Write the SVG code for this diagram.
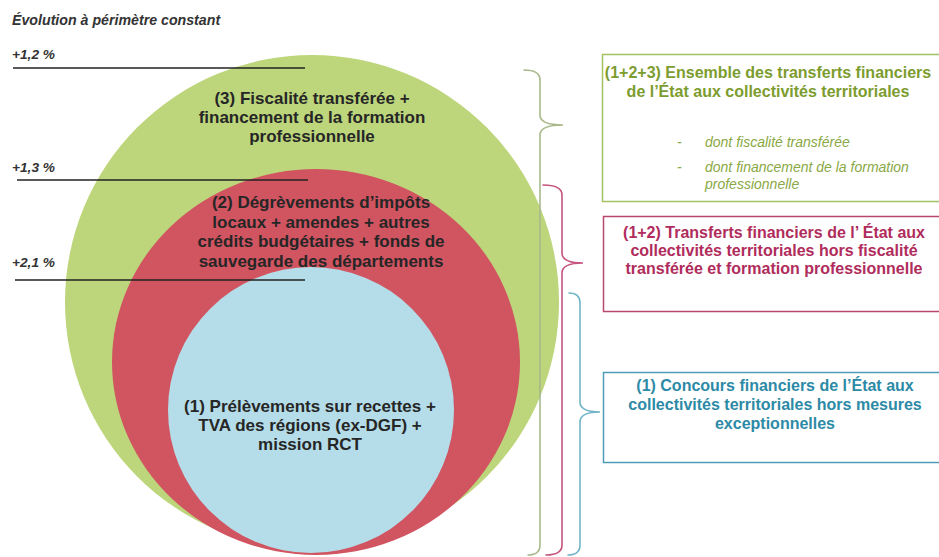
<svg xmlns="http://www.w3.org/2000/svg" width="939" height="557" viewBox="0 0 939 557">
<style>
.lbl{font-family:"Liberation Sans",Arial,sans-serif;font-weight:bold;font-style:italic;fill:#333;}
.ct{font-family:"Liberation Sans",Arial,sans-serif;font-weight:bold;font-size:17px;fill:#262626;text-anchor:middle;}
.bt{font-family:"Liberation Sans",Arial,sans-serif;font-weight:bold;font-size:16px;text-anchor:middle;}
.it{font-family:"Liberation Sans",Arial,sans-serif;font-style:italic;font-size:14px;fill:#8aa845;}
.lvl{stroke:#222;stroke-width:1.3;fill:none;}
.br{fill:none;stroke-width:1.6;stroke-linecap:round;}
</style>
<rect width="939" height="557" fill="#ffffff"/>
<g id="title">
<text class="lbl" x="12" y="25" font-size="14.2">Évolution à périmètre constant</text>
</g>
<g id="circle3">
<circle cx="312" cy="302" r="247" fill="#bdd67c"/>
</g>
<g id="circle2">
<ellipse cx="316" cy="362" rx="204" ry="193" fill="#d15461"/>
</g>
<g id="circle1">
<circle cx="311" cy="410" r="143" fill="#b5dde9"/>
</g>
<g id="circle3-text">
<text class="ct" x="312" y="104">(3) Fiscalité transférée +</text>
<text class="ct" x="312" y="123">financement de la formation</text>
<text class="ct" x="312" y="142">professionnelle</text>
</g>
<g id="circle2-text">
<text class="ct" x="321" y="208">(2) Dégrèvements d’impôts</text>
<text class="ct" x="321" y="228">locaux + amendes + autres</text>
<text class="ct" x="321" y="247">crédits budgétaires + fonds de</text>
<text class="ct" x="321" y="267">sauvegarde des départements</text>
</g>
<g id="circle1-text">
<text class="ct" x="310" y="412">(1) Prélèvements sur recettes +</text>
<text class="ct" x="310" y="431">TVA des régions (ex-DGF) +</text>
<text class="ct" x="310" y="450">mission RCT</text>
</g>
<g id="levels">
<line class="lvl" x1="13" y1="68" x2="305" y2="68"/>
<line class="lvl" x1="17" y1="180" x2="308" y2="180"/>
<line class="lvl" x1="15" y1="280" x2="305" y2="280"/>
<text class="lbl" x="12" y="59" font-size="13.7">+1,2 %</text>
<text class="lbl" x="12" y="172" font-size="13.7">+1,3 %</text>
<text class="lbl" x="12" y="267" font-size="13.7">+2,1 %</text>
</g>
<g id="connectors">
<path class="br" stroke="#a9b98c" d="M524 70 Q540 70 540 80 L540 115 Q540 125 563 125 Q540 125 540 135 L540 545 Q540 555 528 555"/>
<path class="br" stroke="#c4557f" d="M543 185 Q562 185 562 195 L562 253 Q562 263 583 263 Q562 263 562 273 L562 545 Q562 555 546 555"/>
<path class="br" stroke="#72b5c8" d="M569 293 Q580 293 580 303 L580 402 Q580 412 600 412 Q580 412 580 422 L580 545 Q580 555 568 555"/>
</g>
<g id="box3">
<rect x="602.5" y="54.5" width="345" height="147" fill="#ffffff" stroke="#a3c062" stroke-width="1.5"/>
<text class="bt" x="768" y="78" fill="#7d9c2f">(1+2+3) Ensemble des transferts financiers</text>
<text class="bt" x="768" y="97" fill="#7d9c2f">de l’État aux collectivités territoriales</text>
<text class="it" x="677" y="147">-</text>
<text class="it" x="705" y="147">dont fiscalité transférée</text>
<text class="it" x="677" y="172">-</text>
<text class="it" x="705" y="172">dont financement de la formation</text>
<text class="it" x="705" y="189">professionnelle</text>
</g>
<g id="box2">
<rect x="603.5" y="216.5" width="345" height="95" fill="#ffffff" stroke="#b8476f" stroke-width="1.5"/>
<text class="bt" x="774" y="238" fill="#b02c5c">(1+2) Transferts financiers de l’ État aux</text>
<text class="bt" x="774" y="256" fill="#b02c5c">collectivités territoriales hors fiscalité</text>
<text class="bt" x="774" y="274" fill="#b02c5c">transférée et formation professionnelle</text>
</g>
<g id="box1">
<rect x="603.5" y="372.5" width="345" height="90" fill="#ffffff" stroke="#4e9cb7" stroke-width="1.5"/>
<text class="bt" x="775" y="391" fill="#2d8aa6">(1) Concours financiers de l’État aux</text>
<text class="bt" x="775" y="410" fill="#2d8aa6">collectivités territoriales hors mesures</text>
<text class="bt" x="775" y="429" fill="#2d8aa6">exceptionnelles</text>
</g>
</svg>
